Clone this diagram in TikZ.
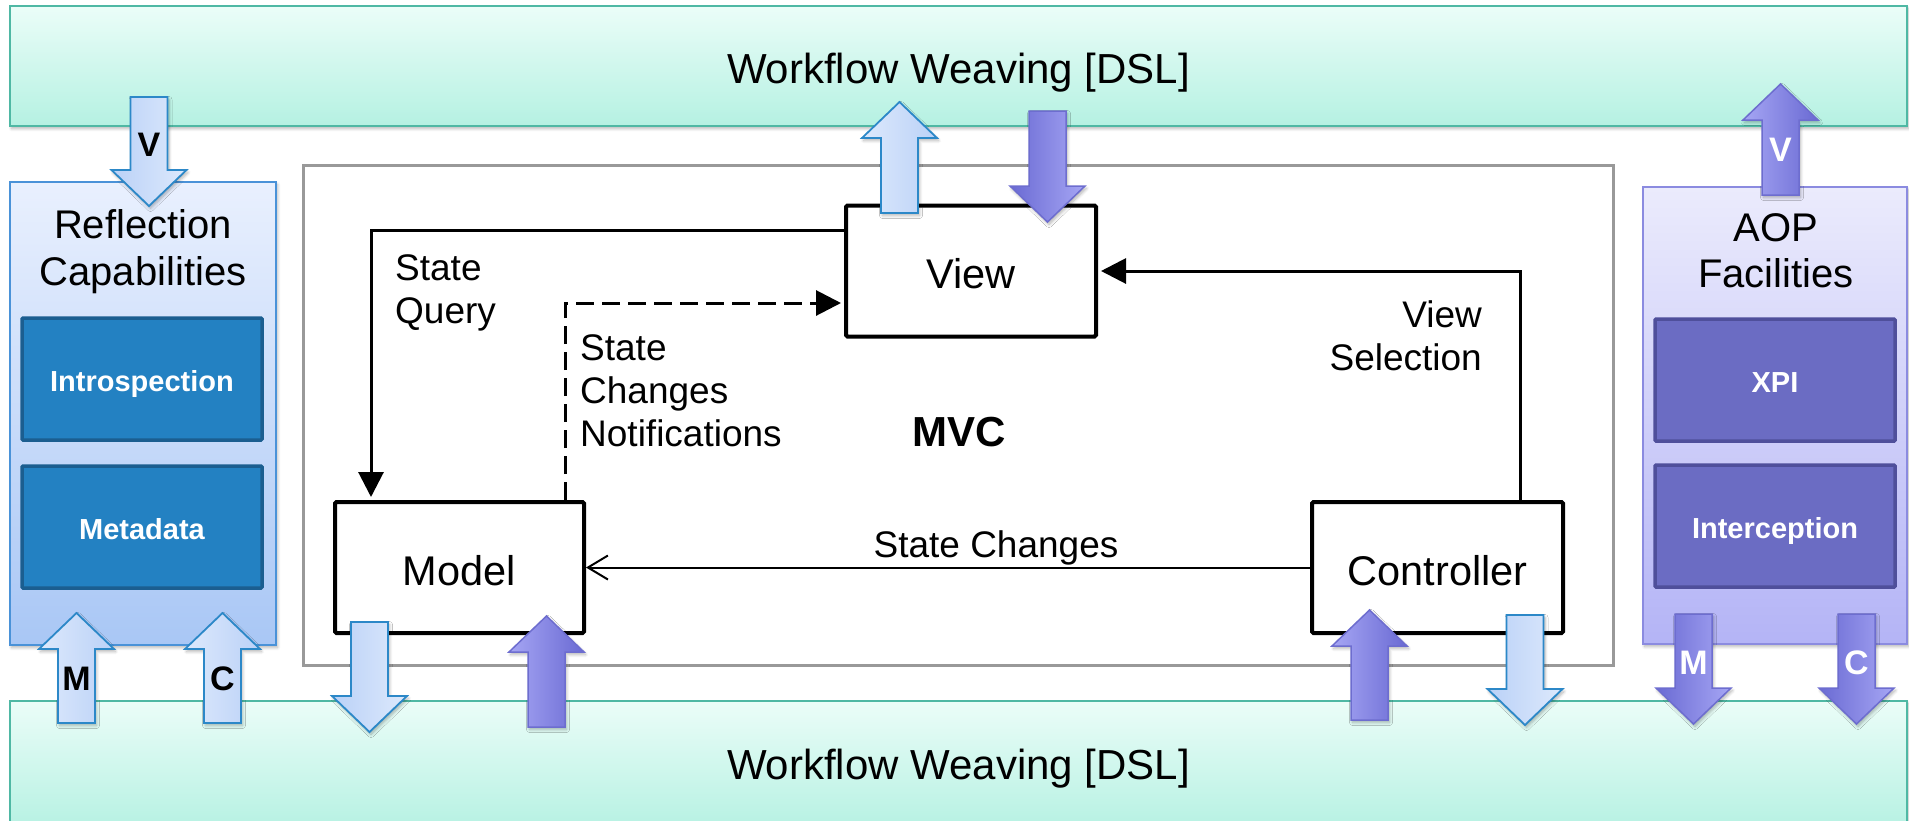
\documentclass[tikz,border=0pt]{standalone}
\usepackage{fontspec}
\setmainfont{Liberation Sans}
\setsansfont{Liberation Sans}
\usetikzlibrary{arrows.meta,shadows.blur}

\definecolor{bandline}{HTML}{4FB8A4}
\definecolor{bandtop}{HTML}{EBFDF8}
\definecolor{bandbot}{HTML}{B5F1E2}
\definecolor{reflline}{HTML}{4A92D8}
\definecolor{refltop}{HTML}{E9F0FE}
\definecolor{reflbot}{HTML}{A9C7F5}
\definecolor{reflbox}{HTML}{2381C2}
\definecolor{reflboxline}{HTML}{1B5E90}
\definecolor{aopline}{HTML}{8B8BE0}
\definecolor{aoptop}{HTML}{EBEBFC}
\definecolor{aopbot}{HTML}{B4B4F6}
\definecolor{aopbox}{HTML}{6B6CC3}
\definecolor{aopboxline}{HTML}{4F4F9B}
\definecolor{bluelight}{HTML}{DDE9FC}
\definecolor{bluedark}{HTML}{BAD1F7}
\definecolor{blueline}{HTML}{2C88C8}
\definecolor{purplelight}{HTML}{A6A6F4}
\definecolor{purpledark}{HTML}{6A6AD3}
\definecolor{purpleline}{HTML}{6D6DCF}
\definecolor{mvcgray}{HTML}{999999}

\newcommand\setfs[2]{\fontsize{#1}{#2}\selectfont}

% block arrow: #2 = centre x, #3 = tail y, #4 = tip y (y grows downwards)
\newcommand\fatarrow[4][]{%
  \pgfmathsetmacro\fasgn{sign(#4-#3)}%
  \pgfmathsetmacro\fahb{#4-\fasgn*36}%
  \path[#1] (#2-18.5,#3) -- (#2-18.5,\fahb) -- (#2-37.5,\fahb) -- (#2,#4)
    -- (#2+37.5,\fahb) -- (#2+18.5,\fahb) -- (#2+18.5,#3) -- cycle;}

\begin{document}
\begin{tikzpicture}[x=1pt,y=-1pt,
  softshadow/.style={blur shadow={shadow xshift=1.5pt, shadow yshift=-2.5pt,
      shadow blur radius=3pt, shadow blur steps=6, shadow opacity=30}},
  band/.style={draw=bandline, line width=2.5pt, top color=bandtop,
      bottom color=bandbot, minimum width=1897pt, minimum height=120pt,
      inner sep=0, softshadow},
  reflpanel/.style={draw=reflline, line width=2pt, top color=refltop,
      bottom color=reflbot, inner sep=0, softshadow},
  aoppanel/.style={draw=aopline, line width=2pt, top color=aoptop,
      bottom color=aopbot, inner sep=0, softshadow},
  reflitem/.style={draw=reflboxline, fill=reflbox, line width=3.5pt,
      minimum width=240pt, minimum height=122pt, text=white,
      text height=24pt, text depth=0pt,
      font=\setfs{29}{34}\bfseries, rounded corners=1pt},
  aopitem/.style={draw=aopboxline, fill=aopbox, line width=3.5pt,
      minimum width=240pt, minimum height=122pt, text=white,
      text height=24pt, text depth=0pt,
      font=\setfs{29}{34}\bfseries, rounded corners=1pt},
  mvcitem/.style={draw=black, fill=white, line width=4pt,
      minimum height=131pt, text height=35pt, text depth=0pt,
      font=\setfs{41.5}{48}, rounded corners=1.5pt},
  bluearrowup/.style={draw=blueline, line width=1.8pt, left color=bluelight,
      right color=bluedark, softshadow},
  bluearrowdown/.style={draw=blueline, line width=1.8pt, left color=bluedark,
      right color=bluelight, softshadow},
  purplearrowup/.style={draw=purpleline, line width=1.5pt, left color=purplelight,
      right color=purpledark, softshadow},
  purplearrowdown/.style={draw=purpleline, line width=1.5pt, left color=purpledark,
      right color=purplelight, softshadow},
  letter/.style={font=\setfs{34}{40}\bfseries, inner sep=0},
  lbl/.style={font=\setfs{37}{43}, inner sep=0},
  conn/.style={draw=black, line width=3pt},
  tri/.style={-{Triangle[length=25pt,width=25pt]}, shorten >=3pt},
]
\useasboundingbox (0,0) rectangle (1909,820);

% weaving layers
\node[band] (topband) at (958.5,66) {};
\node[band, minimum height=130pt] (botband) at (958.5,766) {};
\node[font=\setfs{42}{48}, anchor=base, inner sep=0] (toptitle) at (958.5,83) {Workflow Weaving [DSL]};
\node[font=\setfs{42}{48}, anchor=base, inner sep=0] (bottitle) at (958.5,779) {Workflow Weaving [DSL]};

% reflection panel
\node[reflpanel, minimum width=266pt, minimum height=463pt] (refl) at (143,413.5) {};
\node[align=center, font=\setfs{40}{47}, anchor=north, inner sep=0] (refltitle) at (143,209) {Reflection\\Capabilities};
\node[reflitem] (intro) at (142,379) {Introspection};
\node[reflitem] (meta) at (142,527) {Metadata};

% AOP panel
\node[aoppanel, minimum width=264pt, minimum height=457pt] (aop) at (1775,415.5) {};
\node[align=center, font=\setfs{40}{46.5}, anchor=north, inner sep=0] (aoptitle) at (1776,213) {AOP\\Facilities};
\node[aopitem] (xpi) at (1775,380) {XPI};
\node[aopitem] (intc) at (1775,526) {Interception};

% MVC core
\node[draw=mvcgray, line width=3pt, minimum width=1310pt, minimum height=500pt] (mvcbox) at (958,415) {};
\node[mvcitem, minimum width=250pt] (view) at (971,271) {View};
\node[mvcitem, minimum width=249pt] (model) at (459.5,567.5) {Model};
\node[mvcitem, minimum width=251pt] (controller) at (1437.5,567.5) {Controller};
\node[font=\setfs{42}{48}\bfseries, anchor=base, inner sep=0] (mvclbl) at (959,446) {MVC};

% MVC interactions
\draw[conn, tri] ([yshift=41pt]view.west) -| ([xshift=38pt]model.north west);
\draw[conn, tri, dash pattern=on 18pt off 8pt] ([xshift=-21pt]model.north east) |- ([yshift=-32pt]view.west);
\draw[conn, tri] ([xshift=-45pt]controller.north east) |- (view.east);
\draw[draw=black, line width=2pt, -{Straight Barb[length=20pt,width=24pt]}] (controller.west) -- (model.east);

\node[lbl, anchor=north west, align=left] (sq) at (395,254) {State\\Query};
\node[lbl, anchor=north west, align=left] (scn) at (580,334) {State\\Changes\\Notifications};
\node[lbl, anchor=north east, align=right] (vs) at (1482,300) {View\\Selection};
\node[lbl, anchor=base] (sc) at (996,557) {State Changes};

% weaving arrows
\fatarrow[bluearrowdown]{149}{97}{206}
\fatarrow[bluearrowup]{76.5}{723}{613}
\fatarrow[bluearrowup]{222.5}{723}{613}
\fatarrow[bluearrowup]{899.5}{213}{102}
\fatarrow[bluearrowdown]{369.5}{622}{732}
\fatarrow[bluearrowdown]{1525}{615}{725}
\fatarrow[purplearrowup]{1780.5}{195}{84}
\fatarrow[purplearrowdown]{1693.5}{614}{724}
\fatarrow[purplearrowdown]{1856.5}{614}{724}
\fatarrow[purplearrowdown]{1047.5}{111}{222}
\fatarrow[purplearrowup]{546.5}{727}{616}
\fatarrow[purplearrowup]{1369.5}{720}{610}

\node[letter] (lv) at (149,145) {V};
\node[letter] (lm) at (76.5,679) {M};
\node[letter] (lc) at (222.5,679) {C};
\node[letter, text=white] (rv) at (1780.5,150) {V};
\node[letter, text=white] (rm) at (1693.5,663) {M};
\node[letter, text=white] (rc) at (1856.5,663) {C};
\end{tikzpicture}
\end{document}
